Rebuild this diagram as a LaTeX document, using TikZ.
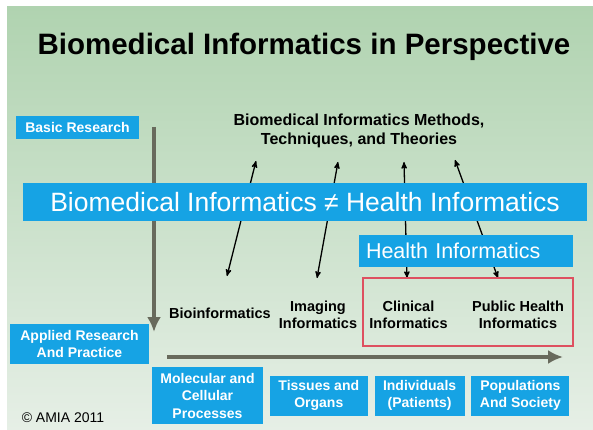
\documentclass[tikz,border=0pt]{standalone}
\usepackage{fontspec}
\setmainfont{Liberation Sans}
\usepackage{xcolor}
\definecolor{colorBox}{RGB}{22,163,228}
\definecolor{colorFrame}{RGB}{222,80,96}
\definecolor{colorAxis}{RGB}{104,106,92}
\definecolor{colorSlideTop}{RGB}{176,211,176}
\definecolor{colorSlideBottom}{RGB}{230,239,230}
\usepackage{tikz}
\usetikzlibrary{arrows, arrows.meta, positioning}
\tikzset{box/.style={fill=colorBox, text=white, inner sep=0pt, align=center, font=\fontsize{14}{17.5}\selectfont\bfseries}}
\tikzset{fieldtext/.style={inner sep=0pt, align=center, font=\fontsize{14.5}{17}\selectfont\bfseries}}
\tikzset{axis/.style={-{Latex[length=15pt,width=14pt]}, line width=4.5pt, colorAxis}}

\begin{document}
\begin{tikzpicture}[x=1pt, y=-1pt, >=stealth', thick]
\useasboundingbox (0,0) rectangle (593,430);
\fill[white] (0,0) rectangle (593,430);
\shade[top color=colorSlideTop, bottom color=colorSlideBottom] (7,7) rectangle (593,430);
\node[font=\fontsize{29.5}{34}\selectfont\bfseries] (title) at (304,47) {Biomedical Informatics in Perspective};
\node[box, minimum width=123pt, minimum height=23pt] (basic) at (77.5,127.5) {Basic Research};
\node[box, minimum width=139pt, minimum height=40pt] (applied) at (79.5,344) {Applied Research\\And Practice};
\coordinate (researchTop) at (154,127);
\coordinate (researchTip) at (154,332);
\draw [axis] (researchTop) -- (researchTip);
\node[fieldtext, font=\fontsize{16}{19}\selectfont\bfseries] (methods) at (359,130.5) {Biomedical Informatics Methods,\\Techniques, and Theories};
\coordinate (bioUp) at (256,161);
\coordinate (bioDown) at (227,276);
\coordinate (imgUp) at (338,162);
\coordinate (imgDown) at (317,278);
\coordinate (clinUp) at (404,162);
\coordinate (clinDown) at (407,278);
\coordinate (pubUp) at (455,160);
\coordinate (pubDown) at (498,278);
\draw [<->, line width=1.3pt] (bioDown) -- (bioUp);
\draw [<->, line width=1.3pt] (imgDown) -- (imgUp);
\draw [<->, line width=1.3pt] (clinDown) -- (clinUp);
\draw [<->, line width=1.3pt] (pubDown) -- (pubUp);
\node[box, minimum width=564pt, minimum height=38pt, font=\fontsize{26.5}{30}\selectfont] (banner) at (305,202) {Biomedical Informatics ≠ Health Informatics};
\node[box, inner xsep=7pt, text width=200pt, align=left, minimum height=32pt, font=\fontsize{21.5}{25}\selectfont] (health) at (466,251) {Health Informatics};
\node[draw=colorFrame, line width=1.5pt, minimum width=210pt, minimum height=68pt] (healthFrame) at (468,312) {};
\node[fieldtext] (bioinf) at (220,313) {Bioinformatics};
\node[fieldtext] (imaging) at (318,314.5) {Imaging\\Informatics};
\node[fieldtext] (clinical) at (408.5,314.5) {Clinical\\Informatics};
\node[fieldtext] (public) at (518,314.5) {Public Health\\Informatics};
\coordinate (scaleStart) at (167,357);
\coordinate (scaleTip) at (563,357);
\draw [axis, line width=4pt] (scaleStart) -- (scaleTip);
\node[box, minimum width=111pt, minimum height=57pt] (molecular) at (207.5,395.5) {Molecular and\\Cellular\\Processes};
\node[box, minimum width=98pt, minimum height=40pt, right=6pt of molecular] (tissues) {Tissues and\\Organs};
\node[box, minimum width=90pt, minimum height=40pt, right=6pt of tissues] (individuals) {Individuals\\(Patients)};
\node[box, minimum width=98pt, minimum height=40pt, right=6pt of individuals] (populations) {Populations\\And Society};
\node[font=\fontsize{14}{17}\selectfont] (copyright) at (63,418) {© AMIA 2011};
\end{tikzpicture}
\end{document}
